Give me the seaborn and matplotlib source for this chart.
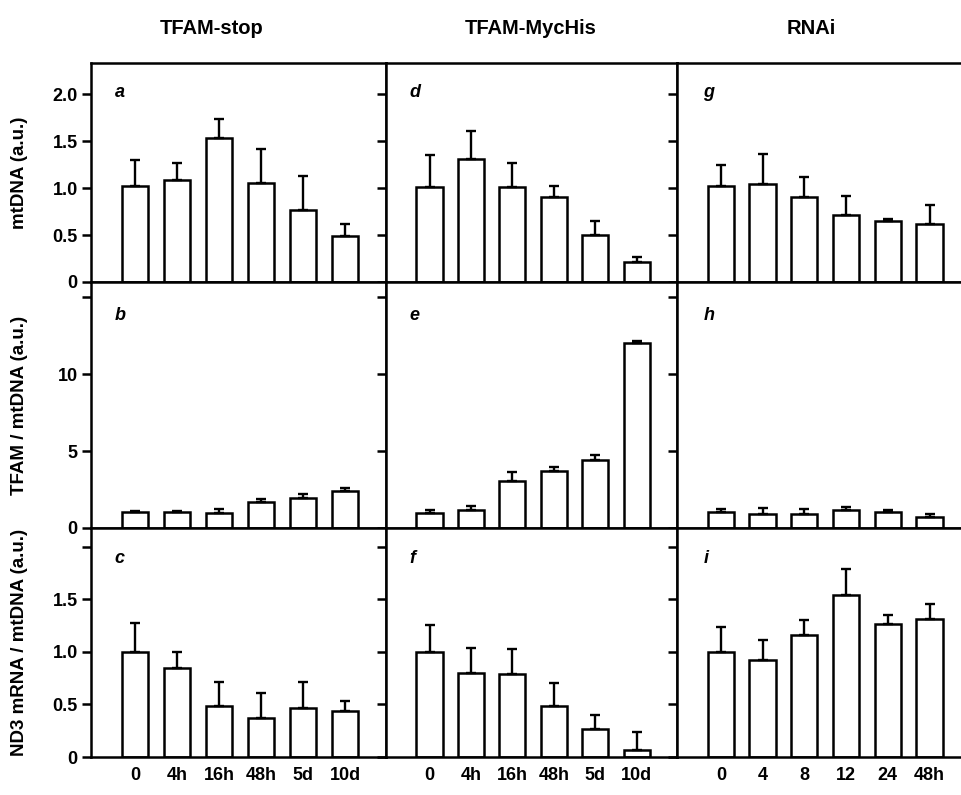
import numpy as np
import pandas as pd
import matplotlib
matplotlib.use("Agg")
import matplotlib.pyplot as plt
import seaborn as sns

# ---------------- data ----------------
column_titles = ["TFAM-stop", "TFAM-MycHis", "RNAi"]
row_labels = ["mtDNA (a.u.)", "TFAM / mtDNA (a.u.)", "ND3 mRNA / mtDNA (a.u.)"]
panel_letters = [["a", "d", "g"], ["b", "e", "h"], ["c", "f", "i"]]

times_tfam = ["0", "4h", "16h", "48h", "5d", "10d"]
times_rnai = ["0", "4", "8", "12", "24", "48h"]

# row 1: mtDNA
mtdna_stop = [1.02, 1.09, 1.53, 1.05, 0.77, 0.49]
mtdna_stop_err = [0.28, 0.18, 0.20, 0.37, 0.36, 0.13]
mtdna_myc = [1.01, 1.31, 1.01, 0.90, 0.50, 0.21]
mtdna_myc_err = [0.34, 0.30, 0.26, 0.12, 0.15, 0.06]
mtdna_rnai = [1.02, 1.04, 0.90, 0.71, 0.65, 0.62]
mtdna_rnai_err = [0.22, 0.32, 0.22, 0.20, 0.02, 0.20]

# row 2: TFAM / mtDNA
tfam_stop = [1.02, 1.02, 0.95, 1.67, 1.95, 2.40]
tfam_stop_err = [0.10, 0.08, 0.26, 0.23, 0.28, 0.22]
tfam_myc = [0.99, 1.17, 3.05, 3.72, 4.42, 12.0]
tfam_myc_err = [0.18, 0.28, 0.59, 0.22, 0.36, 0.18]
tfam_rnai = [1.06, 0.93, 0.91, 1.15, 1.06, 0.69]
tfam_rnai_err = [0.17, 0.35, 0.32, 0.21, 0.13, 0.22]

# row 3: ND3 mRNA / mtDNA
nd3_stop = [1.00, 0.85, 0.49, 0.37, 0.47, 0.44]
nd3_stop_err = [0.28, 0.15, 0.22, 0.24, 0.24, 0.09]
nd3_myc = [1.00, 0.80, 0.79, 0.49, 0.27, 0.07]
nd3_myc_err = [0.26, 0.24, 0.24, 0.21, 0.13, 0.17]
nd3_rnai = [1.00, 0.92, 1.16, 1.54, 1.27, 1.31]
nd3_rnai_err = [0.24, 0.19, 0.14, 0.25, 0.08, 0.15]

# y-axis ticks per row
row_ticks = [[0, 0.5, 1.0, 1.5, 2.0], [0, 5, 10, 15], [0, 0.5, 1.0, 1.5, 2.0]]
row_ticklabels = [["0", "0.5", "1.0", "1.5", "2.0"], ["0", "5", "10", ""],
                  ["0", "0.5", "1.0", "1.5", ""]]
row_ylims = [(0, 2.33), (0, 16.0), (0, 2.18)]

grid_values = [[mtdna_stop, mtdna_myc, mtdna_rnai],
               [tfam_stop, tfam_myc, tfam_rnai],
               [nd3_stop, nd3_myc, nd3_rnai]]
grid_errors = [[mtdna_stop_err, mtdna_myc_err, mtdna_rnai_err],
               [tfam_stop_err, tfam_myc_err, tfam_rnai_err],
               [nd3_stop_err, nd3_myc_err, nd3_rnai_err]]
col_times = [times_tfam, times_tfam, times_rnai]

# ---------------- style ----------------
sns.set_style("ticks")
plt.rcParams["font.family"] = ["Liberation Sans", "DejaVu Sans"]
plt.rcParams["font.weight"] = "bold"
plt.rcParams["text.color"] = "black"
plt.rcParams["axes.labelcolor"] = "black"
plt.rcParams["xtick.color"] = "black"
plt.rcParams["ytick.color"] = "black"
plt.rcParams["axes.edgecolor"] = "black"

W, H = 961, 795
fig = plt.figure(figsize=(W / 100, H / 100), dpi=100)
fig.patch.set_facecolor("white")

col_px = [(91, 295), (386, 291), (677, 293)]
row_px = [(63, 282), (282, 528), (528, 757)]
LW = 1.8

for r in range(3):
    top, bot = row_px[r]
    for c in range(3):
        left, width = col_px[c]
        ax = fig.add_axes([left / W, 1 - bot / H, width / W, (bot - top) / H])
        labels = col_times[c]
        vals = grid_values[r][c]
        errs = grid_errors[r][c]
        df = pd.DataFrame({"time": labels, "value": vals})
        sns.barplot(data=df, x="time", y="value", order=labels, ax=ax,
                    color="white", saturation=1, edgecolor="black",
                    linewidth=LW, width=0.63, errorbar=None, zorder=2)
        ax.errorbar(np.arange(len(vals)), vals,
                    yerr=[np.zeros(len(vals)), errs], fmt="none",
                    ecolor="black", elinewidth=1.7, capsize=3.3,
                    capthick=1.7, zorder=3)
        ax.set_xlim(-1.05, 5.97)
        ax.set_ylim(*row_ylims[r])
        ax.set_yticks(row_ticks[r])
        if c == 0:
            ax.set_yticklabels(row_ticklabels[r], fontsize=13, fontweight="bold")
        else:
            ax.set_yticklabels([])
        ax.tick_params(axis="y", direction="out", length=6.5, width=LW, pad=3,
                       colors="black")
        ax.tick_params(axis="x", length=0, pad=7, colors="black")
        if r == 2:
            ax.set_xticks(range(len(labels)))
            ax.set_xticklabels(labels, fontsize=13, fontweight="bold")
        else:
            ax.set_xticklabels([])
        ax.set_xlabel("")
        ax.set_ylabel("")
        for sp in ax.spines.values():
            sp.set_visible(True)
            sp.set_linewidth(LW)
            sp.set_color("black")
        ax.set_facecolor("white")
        ax.text(0.08 if c < 2 else 0.09, 0.865, panel_letters[r][c],
                transform=ax.transAxes, fontsize=13, fontweight="bold",
                fontstyle="italic", va="center", ha="left", color="black")
    fig.text(20 / W, 1 - ((top + bot) / 2) / H, row_labels[r], rotation=90,
             fontsize=13.5, fontweight="bold", ha="center", va="center",
             color="black")

title_x = [212, 531, 811]
for t, x in zip(column_titles, title_x):
    fig.text(x / W, 1 - 28 / H, t, fontsize=14.5, fontweight="bold",
             ha="center", va="center", color="black")

fig.savefig("out.png", dpi=100, facecolor="white")
